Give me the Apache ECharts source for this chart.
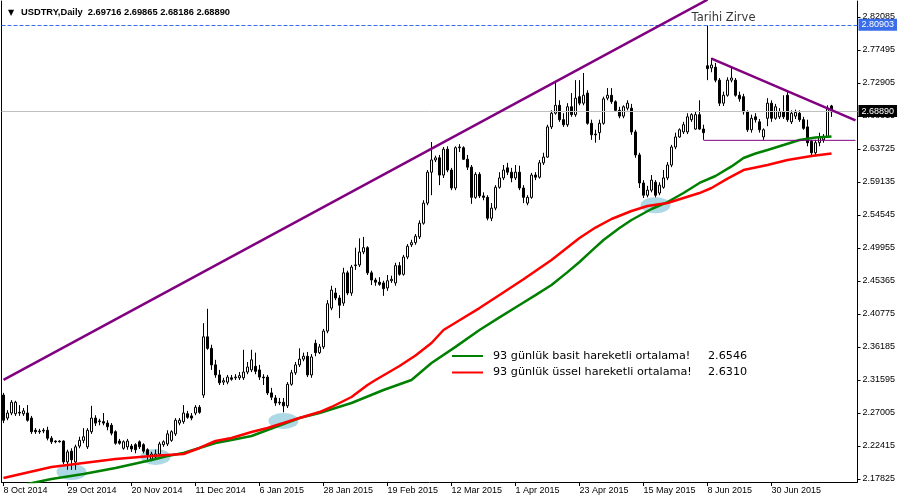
<!DOCTYPE html>
<html><head><meta charset="utf-8">
<script src="https://cdn.jsdelivr.net/npm/echarts@6/dist/echarts.min.js"></script>
<style>html,body{margin:0;padding:0;background:#fff}#c{width:900px;height:500px}</style>
</head><body><div id="c"></div>
<script>
const dateLabels = ['8 Oct 2014','29 Oct 2014','20 Nov 2014','11 Dec 2014','6 Jan 2015','28 Jan 2015','19 Feb 2015','12 Mar 2015','1 Apr 2015','23 Apr 2015','15 May 2015','8 Jun 2015','30 Jun 2015'];

const opens = [
2.295,2.263,2.270,2.269,2.271,2.269,2.270,2.263,2.246,2.244,
2.245,2.246,2.235,2.231,2.231,2.231,2.202,2.217,2.202,2.224,
2.232,2.223,2.244,2.263,2.258,2.258,2.256,2.253,2.244,2.231,
2.221,2.223,2.224,2.226,2.230,2.226,2.219,2.206,2.209,2.213,
2.226,2.227,2.232,2.241,2.256,2.258,2.269,2.266,2.270,2.278,
2.295,2.376,2.360,2.337,2.323,2.313,2.313,2.319,2.319,2.319,
2.319,2.327,2.330,2.335,2.330,2.320,2.320,2.298,2.291,2.285,
2.285,2.280,2.310,2.326,2.337,2.345,2.349,2.323,2.367,2.354,
2.362,2.384,2.416,2.437,2.430,2.423,2.465,2.437,2.475,2.476,
2.494,2.500,2.465,2.455,2.452,2.451,2.444,2.454,2.451,2.475,
2.463,2.487,2.504,2.507,2.515,2.534,2.562,2.605,2.622,2.625,
2.601,2.637,2.608,2.583,2.639,2.639,2.623,2.612,2.570,2.602,
2.572,2.570,2.541,2.555,2.584,2.597,2.611,2.605,2.597,2.605,
2.583,2.562,2.570,2.601,2.598,2.618,2.626,2.668,2.687,2.698,
2.678,2.671,2.696,2.685,2.710,2.701,2.715,2.673,2.658,2.660,
2.673,2.708,2.712,2.703,2.691,2.683,2.694,2.694,2.661,2.629,
2.590,2.573,2.580,2.591,2.576,2.584,2.597,2.615,2.640,2.654,
2.661,2.661,2.678,2.665,2.685,2.665,2.753,2.750,2.751,2.733,
2.701,2.712,2.733,2.733,2.712,2.710,2.689,2.664,2.682,2.675,
2.654,2.680,2.701,2.680,2.682,2.689,2.712,2.675,2.683,2.687,
2.678,2.668,2.648,2.632,2.646,2.650,2.654,2.69716];

const closes = [
2.260,2.270,2.285,2.285,2.270,2.273,2.260,2.244,2.244,2.245,
2.246,2.235,2.230,2.230,2.230,2.202,2.216,2.205,2.223,2.232,
2.237,2.246,2.263,2.256,2.259,2.256,2.251,2.242,2.228,2.228,
2.230,2.231,2.220,2.219,2.223,2.217,2.212,2.213,2.213,2.227,
2.230,2.241,2.244,2.260,2.260,2.270,2.264,2.263,2.278,2.271,
2.376,2.360,2.337,2.323,2.312,2.315,2.320,2.317,2.320,2.322,
2.327,2.334,2.344,2.328,2.320,2.319,2.298,2.292,2.284,2.284,
2.280,2.310,2.326,2.337,2.345,2.349,2.323,2.348,2.354,2.362,
2.384,2.422,2.441,2.430,2.420,2.465,2.437,2.473,2.476,2.494,
2.500,2.465,2.455,2.452,2.449,2.443,2.454,2.456,2.475,2.463,
2.487,2.502,2.507,2.516,2.534,2.562,2.605,2.622,2.625,2.601,
2.637,2.608,2.583,2.639,2.640,2.623,2.612,2.570,2.602,2.572,
2.570,2.541,2.555,2.584,2.597,2.608,2.605,2.597,2.605,2.583,
2.570,2.570,2.601,2.598,2.618,2.626,2.668,2.687,2.698,2.678,
2.671,2.696,2.685,2.708,2.701,2.712,2.673,2.657,2.657,2.673,
2.707,2.712,2.703,2.691,2.683,2.696,2.701,2.661,2.629,2.590,
2.573,2.580,2.594,2.573,2.587,2.597,2.615,2.640,2.654,2.664,
2.671,2.682,2.685,2.685,2.665,2.660,2.749,2.754,2.733,2.701,
2.712,2.733,2.736,2.712,2.707,2.689,2.664,2.680,2.678,2.664,
2.664,2.701,2.680,2.696,2.689,2.682,2.678,2.687,2.688,2.678,
2.666,2.646,2.632,2.646,2.654,2.654,2.694,2.68890];

const lows = [
2.256,2.260,2.267,2.266,2.266,2.266,2.258,2.241,2.241,2.241,
2.242,2.232,2.227,2.228,2.229,2.199,2.191,2.191,2.191,2.221,
2.228,2.220,2.241,2.252,2.253,2.253,2.246,2.239,2.226,2.226,
2.219,2.219,2.216,2.214,2.220,2.214,2.205,2.203,2.206,2.210,
2.223,2.224,2.230,2.238,2.253,2.255,2.262,2.260,2.267,2.269,
2.291,2.358,2.330,2.319,2.309,2.309,2.310,2.315,2.316,2.316,
2.316,2.324,2.327,2.324,2.316,2.309,2.295,2.288,2.280,2.281,
2.271,2.277,2.308,2.323,2.334,2.342,2.320,2.319,2.349,2.352,
2.359,2.381,2.413,2.427,2.402,2.419,2.434,2.433,2.469,2.473,
2.491,2.462,2.448,2.447,2.447,2.433,2.440,2.451,2.447,2.461,
2.461,2.484,2.501,2.504,2.512,2.532,2.559,2.573,2.619,2.587,
2.597,2.605,2.580,2.580,2.633,2.622,2.608,2.561,2.568,2.569,
2.566,2.538,2.537,2.552,2.582,2.594,2.601,2.591,2.594,2.580,
2.562,2.559,2.568,2.594,2.596,2.615,2.625,2.665,2.685,2.675,
2.668,2.668,2.682,2.682,2.698,2.698,2.671,2.650,2.646,2.650,
2.671,2.705,2.700,2.689,2.680,2.680,2.691,2.657,2.625,2.583,
2.569,2.570,2.577,2.570,2.573,2.582,2.594,2.612,2.637,2.653,
2.658,2.658,2.675,2.664,2.664,2.650,2.733,2.744,2.730,2.697,
2.697,2.710,2.730,2.710,2.703,2.685,2.661,2.660,2.674,2.660,
2.650,2.669,2.675,2.678,2.679,2.679,2.675,2.672,2.679,2.675,
2.664,2.641,2.628,2.628,2.641,2.646,2.653,2.68186];

const highs = [
2.298,2.274,2.288,2.287,2.281,2.277,2.281,2.266,2.249,2.248,
2.249,2.251,2.238,2.232,2.232,2.232,2.219,2.221,2.226,2.237,
2.249,2.249,2.280,2.267,2.262,2.270,2.260,2.256,2.246,2.234,
2.232,2.234,2.227,2.228,2.232,2.228,2.221,2.216,2.219,2.230,
2.232,2.246,2.246,2.263,2.263,2.281,2.273,2.270,2.281,2.281,
2.395,2.415,2.365,2.344,2.330,2.319,2.323,2.323,2.324,2.327,
2.358,2.341,2.358,2.354,2.337,2.324,2.323,2.305,2.295,2.291,
2.291,2.313,2.330,2.341,2.360,2.354,2.355,2.352,2.372,2.366,
2.387,2.427,2.447,2.444,2.434,2.472,2.468,2.476,2.500,2.513,
2.515,2.502,2.468,2.458,2.459,2.454,2.462,2.461,2.479,2.480,
2.490,2.505,2.511,2.519,2.538,2.566,2.608,2.647,2.628,2.629,
2.640,2.641,2.611,2.641,2.644,2.641,2.629,2.615,2.605,2.605,
2.577,2.573,2.562,2.587,2.605,2.615,2.618,2.611,2.615,2.614,
2.587,2.573,2.604,2.605,2.622,2.632,2.671,2.691,2.729,2.705,
2.687,2.701,2.715,2.733,2.733,2.743,2.719,2.678,2.664,2.678,
2.710,2.722,2.722,2.705,2.696,2.698,2.705,2.700,2.664,2.632,
2.594,2.586,2.601,2.594,2.591,2.608,2.619,2.643,2.660,2.666,
2.675,2.687,2.687,2.689,2.705,2.671,2.80903,2.764,2.757,2.736,
2.717,2.737,2.751,2.736,2.717,2.714,2.691,2.685,2.687,2.679,
2.666,2.708,2.705,2.700,2.694,2.712,2.719,2.691,2.692,2.691,
2.682,2.678,2.650,2.650,2.660,2.658,2.698,2.69865];

// 93-day moving averages: [bar index, value]
const smaPoints = [[6,2.1713],[12,2.1783],[20,2.1852],[28,2.1936],[37,2.2047],[41,2.2103],[45,2.2144],[49,2.2214],[53,2.2283],[57,2.2325],[62,2.2381],[66,2.2464],[70,2.2547],[74,2.2631],[79,2.2700],[87,2.2840],[95,2.3020],[102,2.3160],[107,2.3396],[113,2.3620],[119,2.3855],[124,2.4030],[129,2.4203],[133,2.4340],[137,2.4481],[141,2.4660],[144,2.4801],[147,2.4955],[150,2.5107],[154,2.5274],[157,2.5385],[162,2.5538],[166,2.5635],[170,2.5761],[174,2.5900],[178,2.5997],[182,2.6130],[185,2.6247],[188,2.6310],[191,2.6359],[195,2.6428],[199,2.6498],[203,2.6532],[207,2.6546]];
const emaPoints = [[0,2.1796],[12,2.1949],[20,2.2005],[28,2.2061],[37,2.2103],[45,2.2130],[49,2.2214],[53,2.2311],[57,2.2353],[62,2.2436],[66,2.2492],[70,2.2561],[74,2.2631],[79,2.2714],[82,2.2784],[87,2.2923],[91,2.3090],[93,2.3160],[99,2.3354],[103,2.3500],[107,2.3674],[110,2.3855],[114,2.3990],[119,2.4160],[124,2.4342],[130,2.4560],[137,2.4829],[144,2.5135],[148,2.5280],[152,2.5399],[157,2.5510],[161,2.5580],[166,2.5621],[170,2.5691],[174,2.5760],[177,2.5830],[181,2.5960],[185,2.6080],[191,2.6150],[196,2.6220],[202,2.6275],[207,2.6310]];

const upperTrend = [[0,2.316],[176,2.845]];
const descTrend = [[177,2.763],[213,2.677]];
const supportLine = [[175,2.6493],[213,2.6493]];
const highlightPoints = [[17,2.188],[38,2.209],[70,2.259],[163,2.559]];
const annotationPoints = [[180,2.8195]];
const annotationText = 'Tarihi Zirve';

const yTicks = [2.17825,2.22415,2.27005,2.31595,2.36185,2.40775,2.45365,2.49955,2.54545,2.59135,2.63725,2.68315,2.72905,2.77495,2.82085];
const peakLevel = 2.80903;
const bidLevel = 2.68890;
const smaName = '93 günlük basit hareketli ortalama!';
const emaName = '93 günlük üssel hareketli ortalama!';
const smaLast = 2.6546, emaLast = 2.6310;

const N = 214;
const categories = Array.from({length: N}, (_, i) => (i % 16 === 0 && i / 16 < dateLabels.length) ? dateLabels[i / 16] : '');
const candles = opens.map((o, i) => [o, closes[i], lows[i], highs[i]]);
const last = candles.length - 1;
const titleText = 'USDTRY,Daily  ' + [opens[last], highs[last], lows[last], closes[last]].map(v => v.toFixed(5)).join(' ');
const legendValues = {}; legendValues[smaName] = smaLast.toFixed(4); legendValues[emaName] = emaLast.toFixed(4);

const YMIN = 2.17408, YMAX = 2.8431;
const AX = "'Liberation Sans', Arial, sans-serif";
const chart = echarts.init(document.getElementById('c'));
chart.setOption({
  animation: false,
  backgroundColor: '#fff',
  title: {
    left: 3, top: 3,
    text: '{a|▼}{b|' + titleText + '}',
    textStyle: { rich: {
      a: { fontFamily: 'DejaVu Sans', fontSize: 8, color: '#000', width: 13 },
      b: { fontFamily: AX, fontSize: 9.3, color: '#000' }
    } }
  },
  legend: {
    data: [smaName, emaName], orient: 'vertical', left: 447, top: 344,
    itemWidth: 31, itemHeight: 2, itemGap: 2.5, icon: 'rect', selectedMode: false,
    formatter: name => '{n|' + name + '}{v|' + legendValues[name] + '}',
    textStyle: { fontFamily: 'DejaVu Sans', fontSize: 11.2, color: '#000', lineHeight: 14,
      rich: {
        n: { fontFamily: 'DejaVu Sans', fontSize: 11.2, color: '#000', width: 215, padding: [0,0,0,5] },
        v: { fontFamily: 'DejaVu Sans', fontSize: 11.2, color: '#000' }
      } }
  },
  grid: { left: 1.5, right: 42.5, top: 1, bottom: 18, containLabel: false },
  xAxis: {
    type: 'category', data: categories, boundaryGap: true,
    axisLine: { show: true, lineStyle: { color: '#000', width: 1 } },
    axisTick: { show: true, alignWithLabel: true, interval: (i, v) => v !== '', length: 4, lineStyle: { color: '#000' } },
    axisLabel: { interval: (i, v) => v !== '', align: 'left', margin: 4, color: '#000', fontSize: 9, fontFamily: AX },
    splitLine: { show: false }
  },
  yAxis: [{
    type: 'value', position: 'right', min: YMIN, max: YMAX,
    axisLine: { show: true, lineStyle: { color: '#000', width: 1 } },
    axisTick: { show: true, length: 3, customValues: yTicks, lineStyle: { color: '#000' } },
    axisLabel: { customValues: yTicks, formatter: v => v.toFixed(5), margin: 5, color: '#000', fontSize: 9, fontFamily: AX },
    splitLine: { show: false }
  }, {
    type: 'value', position: 'left', min: YMIN, max: YMAX,
    axisLine: { show: true, lineStyle: { color: '#000', width: 1 } },
    axisTick: { show: false }, axisLabel: { show: false }, splitLine: { show: false }
  }],
  series: [
    {
      type: 'scatter', z: 1, silent: true, data: highlightPoints,
      symbol: 'circle', symbolSize: [30, 16], itemStyle: { color: '#add8e6', opacity: 1 },
      markLine: {
        silent: true, symbol: ['none', 'none'], animation: false,
        data: [
          { yAxis: peakLevel, lineStyle: { color: '#3a6ee8', type: [4, 2], width: 1 },
            label: { show: true, position: 'end', distance: 1, formatter: peakLevel.toFixed(5),
              backgroundColor: '#3a6ee8', color: '#fff', padding: [2, 3, 1, 3], fontSize: 9, fontFamily: AX } },
          { yAxis: bidLevel, lineStyle: { color: '#c0c0c0', type: 'solid', width: 1 },
            label: { show: true, position: 'end', distance: 1, formatter: bidLevel.toFixed(5),
              backgroundColor: '#000', color: '#fff', padding: [2, 3, 1, 3], fontSize: 9, fontFamily: AX } }
        ]
      }
    },
    {
      type: 'candlestick', z: 3, data: candles, barWidth: 3, silent: true,
      itemStyle: { color: '#fff', color0: '#000', borderColor: '#000', borderColor0: '#000', borderWidth: 1 }
    },
    { name: smaName, type: 'line', z: 4, data: smaPoints, showSymbol: false, symbol: 'none', color: '#008000',
      lineStyle: { color: '#008000', width: 2.5 }, silent: true },
    { name: emaName, type: 'line', z: 4, data: emaPoints, showSymbol: false, symbol: 'none', color: '#ff0000',
      lineStyle: { color: '#ff0000', width: 2.5 }, silent: true },
    { type: 'line', z: 5, data: upperTrend, showSymbol: false, symbol: 'none', lineStyle: { color: '#800080', width: 2.5 }, silent: true },
    { type: 'line', z: 5, data: descTrend, showSymbol: false, symbol: 'none', lineStyle: { color: '#800080', width: 2.5 }, silent: true },
    { type: 'line', z: 5, data: supportLine, showSymbol: false, symbol: 'none', lineStyle: { color: '#800080', width: 1 }, silent: true },
    { type: 'scatter', z: 6, data: annotationPoints, symbolSize: 1, itemStyle: { color: 'rgba(0,0,0,0)' }, silent: true,
      label: { show: true, position: 'inside', formatter: () => annotationText, color: '#000', fontSize: 11.5, fontFamily: 'DejaVu Sans' } }
  ]
});
</script>
</body></html>
